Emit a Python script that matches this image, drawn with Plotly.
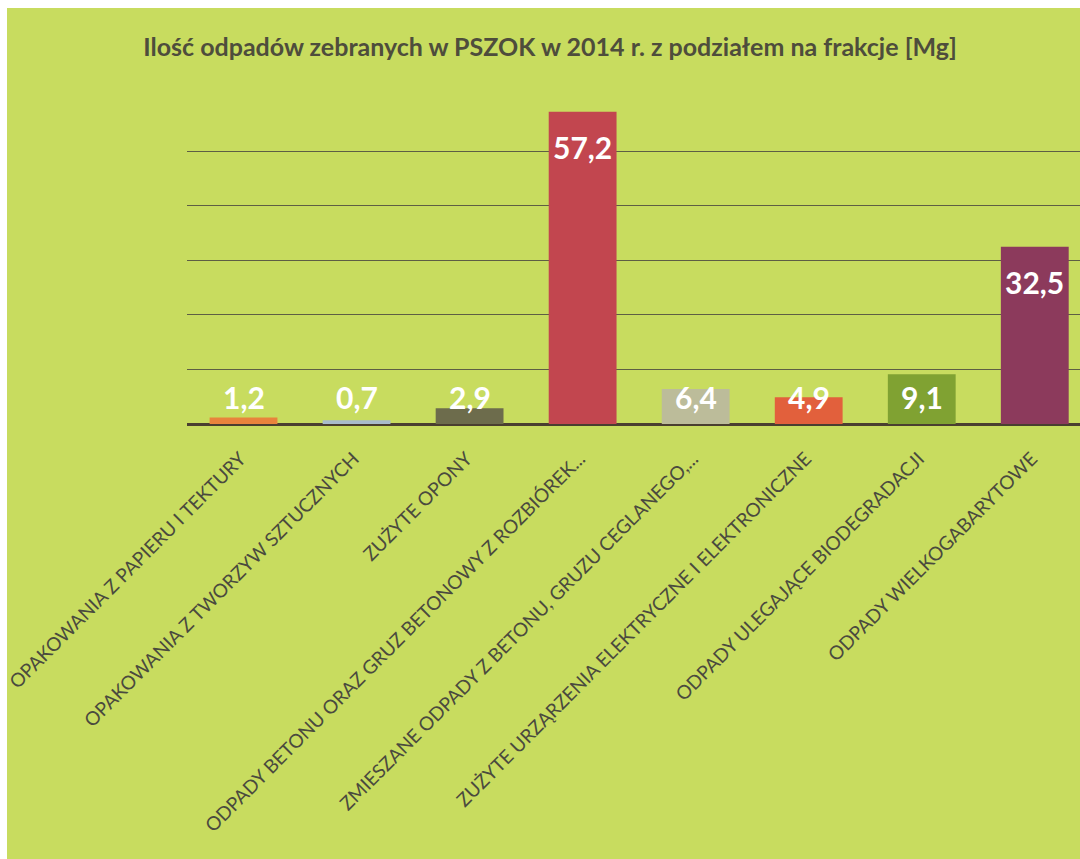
import plotly.graph_objects as go

categories = [
    "OPAKOWANIA Z PAPIERU I TEKTURY",
    "OPAKOWANIA Z TWORZYW SZTUCZNYCH",
    "ZUŻYTE OPONY",
    "ODPADY BETONU ORAZ GRUZ BETONOWY Z ROZBIÓREK...",
    "ZMIESZANE ODPADY Z BETONU, GRUZU CEGLANEGO,...",
    "ZUŻYTE URZĄRZENIA ELEKTRYCZNE I ELEKTRONICZNE",
    "ODPADY ULEGAJĄCE BIODEGRADACJI",
    "ODPADY WIELKOGABARYTOWE",
]
values = [1.2, 0.7, 2.9, 57.2, 6.4, 4.9, 9.1, 32.5]
bar_colors = ["#e8843c", "#a9bccb", "#6d6c4c", "#c2464f", "#bcbc9a", "#e2603c", "#80a232", "#8c3a5c"]
title_text = "Ilość odpadów zebranych w PSZOK w 2014 r. z podziałem na frakcje [Mg]"

W, H = 1080, 859
ML, MR, MT, MB = 187, 0, 102, 435
PW, PH = W - ML - MR, H - MT - MB

fig = go.Figure()
fig.add_trace(go.Bar(
    x=categories, y=values,
    marker=dict(color=bar_colors, line=dict(width=0)),
    width=0.6,
    hoverinfo="x+y",
))

# data labels
for c, v in zip(categories, values):
    fig.add_annotation(
        x=c, y=max(v - 6.4, 5.0), xref="x", yref="y",
        text="<b>" + f"{v:.1f}".replace(".", ",") + "</b>",
        showarrow=False, yanchor="middle",
        font=dict(family="Lato, sans-serif", size=30, color="#ffffff"),
    )

# white scan border strips at top and left of the page
fig.add_shape(
    type="rect", xref="paper", yref="paper", layer="below",
    x0=-ML / PW - 0.01, x1=1.01,
    y0=1 + (MT - 8) / PH, y1=1 + MT / PH + 0.01,
    fillcolor="#ffffff", line=dict(width=0),
)
fig.add_shape(
    type="rect", xref="paper", yref="paper", layer="below",
    x0=-ML / PW - 0.01, x1=(7 - ML) / PW,
    y0=-MB / PH - 0.01, y1=1 + MT / PH + 0.01,
    fillcolor="#ffffff", line=dict(width=0),
)

fig.update_layout(
    width=W, height=H,
    margin=dict(l=ML, r=MR, t=MT, b=MB, autoexpand=False),
    paper_bgcolor="#c8dc5f",
    plot_bgcolor="rgba(0,0,0,0)",
    showlegend=False,
    bargap=0.4,
    title=dict(
        text="<b>" + title_text + "</b>",
        x=(550 - ML) / PW, xref="paper", xanchor="center",
        y=1 - 47 / H, yanchor="middle",
        font=dict(family="Lato, sans-serif", size=25, color="#4e4d3c"),
    ),
    xaxis=dict(
        range=[-0.5, 7.4],
        tickangle=-45,
        tickfont=dict(family="Lato, sans-serif", size=19, color="#4a4a3e"),
        ticklabelstandoff=19,
        ticklabelshift=-3,
        showgrid=False,
        showline=False,
        ticks="",
        automargin=False,
        fixedrange=True,
    ),
    yaxis=dict(
        range=[0, 59],
        dtick=10,
        showticklabels=False,
        showgrid=True,
        gridcolor="#5e5e44",
        gridwidth=1,
        zeroline=True,
        zerolinecolor="#4a3f30",
        zerolinewidth=3,
        showline=False,
        ticks="",
        automargin=False,
        fixedrange=True,
    ),
)

fig.write_html(
    "out.html",
    config={"displayModeBar": False},
    post_script="document.body.style.margin='0';document.body.style.overflow='hidden';",
)
